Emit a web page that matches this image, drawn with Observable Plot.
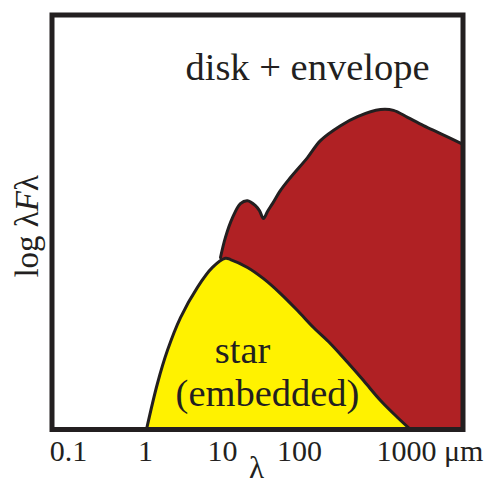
<!DOCTYPE html>
<html>
<head>
<meta charset="utf-8">
<script src="https://cdn.jsdelivr.net/npm/d3@7"></script>
<script src="https://cdn.jsdelivr.net/npm/@observablehq/plot@0.6"></script>
<style>
  html, body { margin: 0; padding: 0; background: #fff; }
</style>
</head>
<body>
<div id="chart"></div>
<script>
// Schematic SED of an embedded protostar: wavelength (μm) vs. log λFλ (arbitrary units)

// embedded star (blackbody-like hump)
const starWavelength = [1.03, 1.43, 1.93, 2.85, 4.73, 7.41, 10.9, 12.7, 21.1, 34.1, 56.7, 94.2, 152, 253, 420, 678, 1127, 1875, 2765];
const starFlux       = [0, 11.1, 19.1, 27.0, 34.3, 39.1, 41.3, 41.0, 39.1, 36.4, 32.8, 28.7, 24.6, 20.7, 16.2, 11.8, 7.0, 2.9, 0];

// disk + envelope excess
const envWavelength = [9.42, 10.9, 13.5, 17.1, 21.1, 26.8, 30.2, 34.1, 38.4, 44.6, 56.7, 76.4, 127, 187, 341, 567, 1127, 1662, 2528, 4077, 6776, 13280];
const envFlux       = [41.5, 46.3, 51.1, 54.5, 55.2, 54.0, 52.8, 50.9, 52.6, 54.5, 57.7, 60.8, 65.6, 69.7, 73.3, 75.5, 77.2, 77.0, 75.3, 73.3, 71.4, 68.8];

// wavelength tick labels
const tickValues = [0.1, 1, 10, 100];
const tickLabels = ["0.1", "1", "10", "100"];
const lastTickValue = 1000;
const lastTickLabel = "1000 μm";

// region labels
const regionLabels = [
  {text: "disk + envelope", wavelength: 127, flux: 87.4},
  {text: "star", wavelength: 18.2, flux: 18.9},
  {text: "(embedded)", wavelength: 38.4, flux: 8.7}
];

const ink = "#231f20";
const red = "#b02124";
const yellow = "#fff200";

const star = starWavelength.map((w, i) => ({w, f: starFlux[i]}));
const envelope = envWavelength.map((w, i) => ({w, f: envFlux[i]}));
const ticks = tickValues.map((v, i) => ({v, label: tickLabels[i]}));

const chart = Plot.plot({
  width: 492,
  height: 486,
  marginLeft: 51.5,
  marginRight: 29.5,
  marginTop: 14.5,
  marginBottom: 57,
  style: {fontFamily: "'Liberation Serif', 'Times New Roman', serif", color: ink, background: "#fff"},
  x: {type: "log", domain: [0.0611, 13280], axis: null},
  y: {domain: [0, 100], axis: null},
  marks: [
    Plot.areaY(envelope, {x: "w", y: "f", fill: red, curve: "catmull-rom"}),
    Plot.lineY(envelope, {x: "w", y: "f", stroke: ink, strokeWidth: 3, curve: "catmull-rom"}),
    Plot.areaY(star, {x: "w", y: "f", fill: yellow, curve: "catmull-rom"}),
    Plot.lineY(star, {x: "w", y: "f", stroke: ink, strokeWidth: 3, curve: "catmull-rom"}),
    Plot.frame({stroke: ink, strokeWidth: 5}),
    Plot.text(ticks, {x: "v", text: "label", frameAnchor: "bottom", dy: 31, fontSize: 30}),
    Plot.text([lastTickLabel], {x: () => lastTickValue, text: d => d, frameAnchor: "bottom", dy: 31, fontSize: 30, textAnchor: "start"}),
    Plot.text(["λ"], {frameAnchor: "bottom", dy: 48, dx: -1, fontSize: 31}),
    Plot.text(["log λFλ"], {frameAnchor: "left", textAnchor: "middle", dx: -24.5, dy: 4, rotate: -90, fontSize: 33}),
    Plot.text(regionLabels, {x: "wavelength", y: "flux", text: "text", fontSize: 38.5})
  ]
});

// italic F in the flux label
d3.select(chart).selectAll("text").each(function () {
  if (this.textContent === "log λFλ") {
    const t = d3.select(this);
    t.text(null);
    t.append("tspan").text("log λ");
    t.append("tspan").attr("font-style", "italic").text("F");
    t.append("tspan").text("λ");
  }
});

document.getElementById("chart").appendChild(chart);
</script>
</body>
</html>
